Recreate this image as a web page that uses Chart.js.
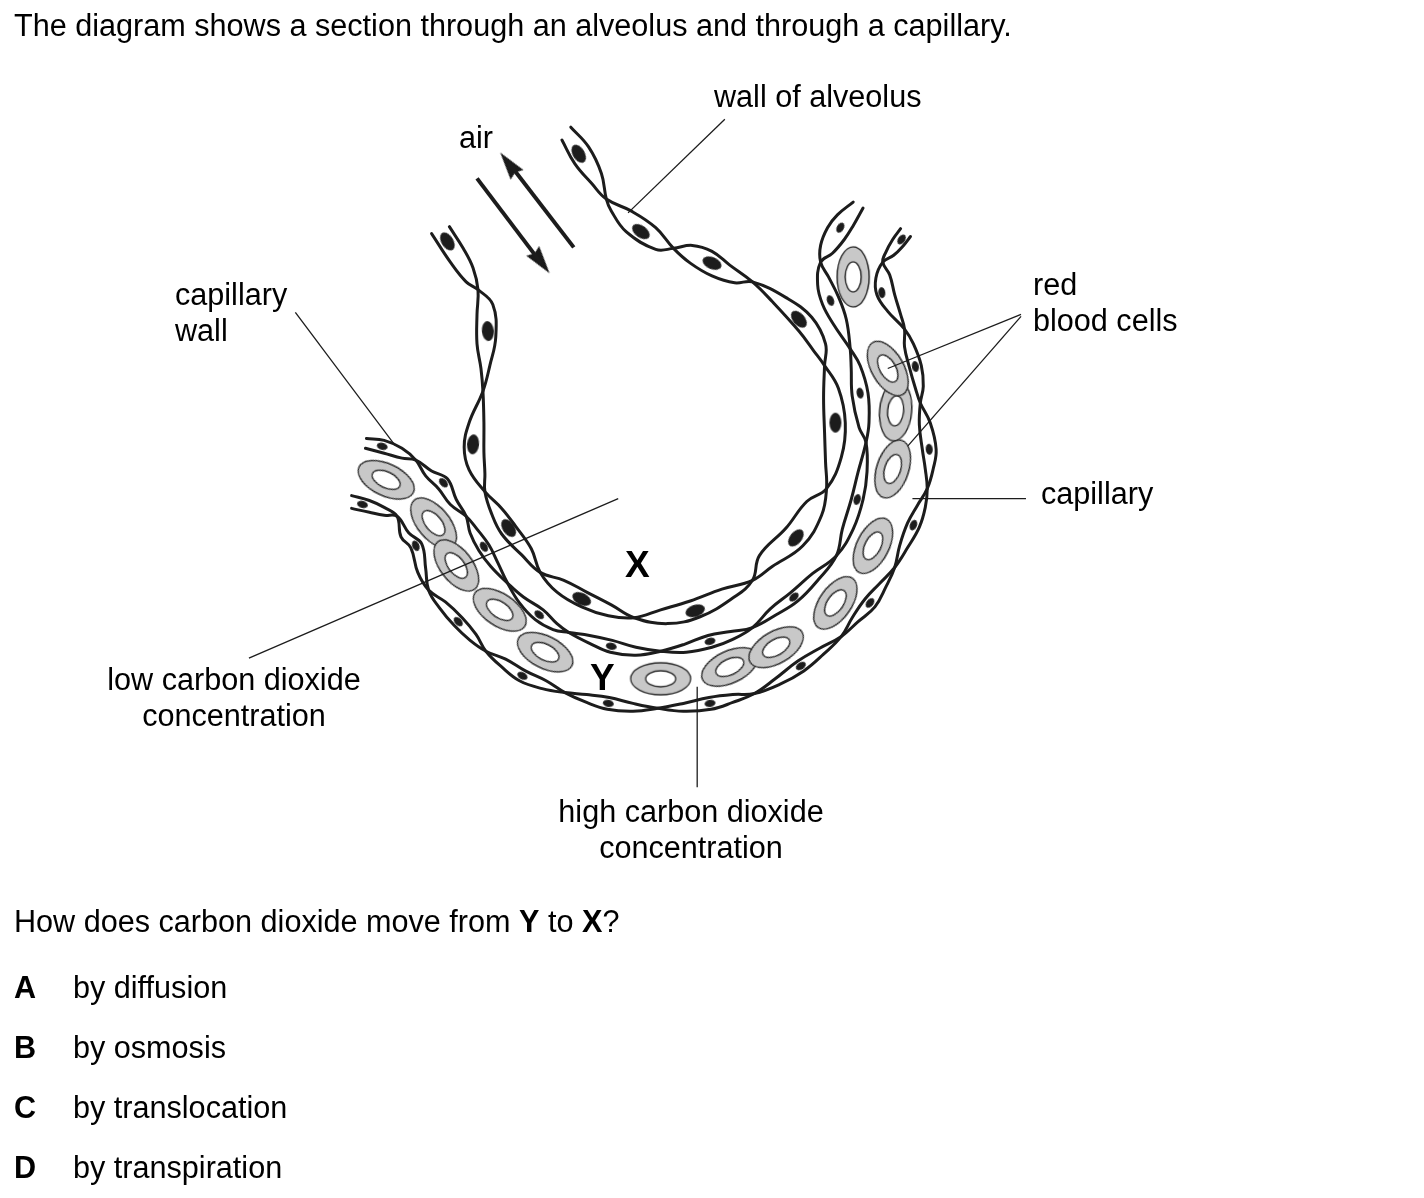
<!DOCTYPE html>
<html>
<head>
<meta charset="utf-8">
<title>Section through an alveolus and a capillary</title>
<script src="https://cdn.jsdelivr.net/npm/chart.js@4.4.0/dist/chart.umd.min.js"></script>
<style>
  body { margin: 0; background: #fff; }
  #page { position: relative; width: 1424px; height: 1198px; font-family: "Liberation Sans", Arial, sans-serif; font-size: 30.6px; color: #000; }
  #theChart { position: absolute; left: 0; top: 0; }
  .lbl { position: absolute; white-space: nowrap; line-height: 30px; }
  .mid { text-align: center; width: 320px; }
  .b { font-weight: bold; }
  .big { font-weight: bold; font-size: 37px; line-height: 37px; }
</style>
</head>
<body>
<div id="page">
<canvas id="theChart" width="1424" height="1198"></canvas>

<div class="lbl" style="left:14px;top:10px">The diagram shows a section through an alveolus and through a capillary.</div>
<div class="lbl" style="left:714px;top:81px">wall of alveolus</div>
<div class="lbl" style="left:459px;top:122px">air</div>
<div class="lbl" style="left:175px;top:279px">capillary</div>
<div class="lbl" style="left:175px;top:315px">wall</div>
<div class="lbl" style="left:1033px;top:269px">red</div>
<div class="lbl" style="left:1033px;top:305px">blood cells</div>
<div class="lbl" style="left:1041px;top:478px">capillary</div>
<div class="lbl big" style="left:625px;top:546px">X</div>
<div class="lbl big" style="left:590px;top:659px">Y</div>
<div class="lbl mid" style="left:74px;top:664px">low carbon dioxide</div>
<div class="lbl mid" style="left:74px;top:700px">concentration</div>
<div class="lbl mid" style="left:531px;top:796px">high carbon dioxide</div>
<div class="lbl mid" style="left:531px;top:832px">concentration</div>
<div class="lbl" style="left:14px;top:906px">How does carbon dioxide move from <span class="b">Y</span> to <span class="b">X</span>?</div>
<div class="lbl b" style="left:14px;top:972px">A</div><div class="lbl" style="left:73px;top:972px">by diffusion</div>
<div class="lbl b" style="left:14px;top:1032px">B</div><div class="lbl" style="left:73px;top:1032px">by osmosis</div>
<div class="lbl b" style="left:14px;top:1092px">C</div><div class="lbl" style="left:73px;top:1092px">by translocation</div>
<div class="lbl b" style="left:14px;top:1152px">D</div><div class="lbl" style="left:73px;top:1152px">by transpiration</div>
</div>

<script>
// diagram values (x to the right, y downwards)

// wall of alveolus: two wavy strands that cross each other
var alveolusWallA = [
  [428,228],[447,257],[463,277],[475,285],
  [490,300],[493,333],[487,362],[480,388],
  [466,420],[461,445],[466,468],[482,490],
  [499,507],[513,525],[529,548],[538,572],
  [555,592],[580,607],[607,616],[633,618],
  [660,610],[690,601],[722,589],[753,580],
  [773,566],[804,545],[823,514],[828,487],
  [827,460],[826,430],[825,395],[826,362],
  [827,340],[813,313],[787,293],[753,277],
  [735,278],[712,271],[690,258],[673,243],
  [655,222],[630,205],[605,193],
  [590,177],[573,157],[560,133]
];
var alveolusWallB = [
  [446,221],[460,243],[470,263],[475,285],
  [474,310],[474,340],[478,365],[480,388],
  [481,420],[481,450],[482,472],[482,490],
  [489,513],[499,533],[519,554],[538,572],
  [562,580],[585,592],[610,605],[633,618],
  [667,624],[700,617],[733,598],[753,580],
  [760,555],[787,527],[808,500],[828,487],
  [843,455],[847,420],[840,385],[826,362],
  [815,347],[800,327],[773,297],[753,277],
  [730,260],[712,246],[692,240],[673,243],
  [655,244],[625,226],[610,205],[605,193],
  [600,167],[587,140],[569,120]
];

// capillary wall next to the alveolus
var innerCapWallA = [
  [361,446],[380,451],[398,456],[412,458],
  [428,469],[444,477],[453,498],[463,515],
  [467,532],[476,550],[488,566],[505,583],
  [521,597],[541,610],[555,624],[567,633],
  [588,644],[609,653],[635,656],[660,652],
  [684,645],[708,636],[731,632],[753,628],
  [777,615],[799,601],[820,579],[838,555],
  [844,528],[853,498],[860,470],[868,440],
  [871,420],[870,390],[862,362],[852,345],
  [835,320],[824,300],[819,280],[822,257],
  [834,248],[846,234],[855,220],[865,202]
];
var innerCapWallB = [
  [362,436],[380,438],[398,446],[412,458],
  [422,474],[435,487],[447,503],[463,515],
  [474,528],[486,544],[495,562],[505,583],
  [517,603],[533,620],[551,630],[567,633],
  [588,636],[611,641],[635,648],[660,652],
  [686,653],[712,648],[733,640],[753,628],
  [771,609],[791,593],[814,573],[838,555],
  [855,528],[865,498],[869,470],[868,440],
  [861,425],[854,393],[853,365],[852,345],
  [848,315],[840,292],[830,272],[822,257],
  [822,240],[829,222],[839,209],[855,196]
];

// outer capillary wall
var outerCapWallA = [
  [347,507],[365,511],[380,514],[393,515],
  [405,532],[418,543],[422,568],[425,590],
  [436,608],[451,626],[467,641],[483,652],
  [503,660],[523,672],[544,682],[563,694],
  [585,704],[606,711],[632,713],[657,710],
  [683,705],[709,699],[733,696],[755,695],
  [780,686],[805,672],[825,655],[843,637],
  [854,618],[867,599],[882,583],[897,567],
  [910,547],[922,526],[928,506],[930,487],
  [928,467],[925,447],[922,422],[923,400],
  [926,383],[924,362],[916,340],[907,325],
  [890,307],[879,290],[878,273],[885,257],
  [896,250],[906,240],[913,231]
];
var outerCapWallB = [
  [347,494],[365,499],[380,506],[393,515],
  [397,536],[407,547],[414,572],[425,590],
  [442,602],[459,618],[473,635],[483,652],
  [499,668],[517,682],[540,690],[563,694],
  [585,696],[608,699],[632,705],[657,710],
  [683,713],[711,711],[733,704],[755,695],
  [776,680],[799,662],[821,649],[843,637],
  [860,622],[877,607],[888,587],[897,567],
  [902,545],[910,522],[920,504],[930,487],
  [936,467],[939,447],[933,420],[923,400],
  [918,385],[912,364],[907,343],[907,325],
  [903,310],[897,290],[892,270],[885,257],
  [888,247],[895,234],[903,223]
];

// nuclei (position and slant in degrees)
var alveolusNuclei = [[444,236],[485,327],[470,442],[506,527],[580,599],[695,611],[797,537],[837,420],[800,315],[712,258],[640,226],[577,147]];
var alveolusNucleiAngle = [58,85,95,56,26,-18,-51,90,49,23,36,59];
var capNuclei = [
  [378,444],[440,481],[481,546],[537,615],[610,647],[710,642],[795,597],[859,498],[862,390],[832,296],[842,222],
  [358,503],[412,545],[455,622],[520,677],[607,705],[710,705],[802,667],[872,603],[916,524],[932,447],[918,363],[884,288],[904,234]
];
var capNucleiAngle = [15,48,58,39,12,-15,-42,-75,80,70,-60, 15,67,47,28,10,-9,-33,-52,-68,85,80,85,-55];

// red blood cells
var redCells = [[382,478],[430,522],[453,565],[497,610],[543,653],[660,680],[730,668],[777,648],[837,603],[875,545],[895,467],[898,408],[890,365],[855,272]];
var redCellAngle = [25,50,52,34,27,0,-25,-30,-55,-63,-72,-85,60,90];

// air arrows
var arrowUp = [[572,242],[506,156]];
var arrowDown = [[474,172],[539,258]];
var arrowHeads = [[506,157],[539,257]];
var arrowHeadAngle = [-37,143];

// label leader lines
var leaderWallOfAlveolus = [[725,112],[627,207]];
var leaderCapillaryWall = [[290,308],[391,443]];
var leaderRedCells1 = [[1025,310],[890,365]];
var leaderRedCells2 = [[1025,312],[910,444]];
var leaderCapillary = [[915,497],[1030,497]];
var leaderLowCO2 = [[243,659],[617,497]];
var leaderHighCO2 = [[697,688],[697,790]];


// turn [x,y] pairs into chart points
function toPoints(arr){
  return arr.map(function(p){ return {x: p[0], y: p[1]}; });
}

// small canvas with an ellipse, used as point style
function ellipseImage(w, h, fill, stroke, innerW, innerH){
  var c = document.createElement('canvas');
  c.width = w + 4;
  c.height = h + 4;
  var g = c.getContext('2d');
  g.beginPath();
  g.ellipse(c.width/2, c.height/2, w/2, h/2, 0, 0, Math.PI*2);
  g.fillStyle = fill;
  g.fill();
  if(stroke){
    g.lineWidth = 1.3;
    g.strokeStyle = stroke;
    g.stroke();
  }
  if(innerW){
    g.beginPath();
    g.ellipse(c.width/2, c.height/2, innerW/2, innerH/2, 0, 0, Math.PI*2);
    g.fillStyle = '#fff';
    g.fill();
    g.stroke();
  }
  return c;
}

// arrow head pointing up
function arrowHeadImage(){
  var c = document.createElement('canvas');
  c.width = 18;
  c.height = 28;
  var g = c.getContext('2d');
  g.beginPath();
  g.moveTo(9, 0);
  g.lineTo(17, 28);
  g.lineTo(9, 25);
  g.lineTo(1, 28);
  g.closePath();
  g.fillStyle = '#1a1a1a';
  g.fill();
  return c;
}

var ink = '#1c1c1c';

function wallLine(arr){
  return {type: 'line', data: toPoints(arr), borderColor: ink, borderWidth: 3, pointRadius: 0,
          tension: 0.4, fill: false, clip: false, borderCapStyle: 'round', borderJoinStyle: 'round'};
}
function thinLine(arr, width){
  return {type: 'line', data: toPoints(arr), borderColor: ink, borderWidth: width, pointRadius: 0,
          tension: 0, fill: false, clip: false};
}
function marks(arr, img, angles){
  return {type: 'line', data: toPoints(arr), showLine: false, pointStyle: img, pointRadius: 8,
          pointRotation: function(ctx){ return angles[ctx.dataIndex]; }, clip: false};
}

var bigNucleus = ellipseImage(20, 12, ink);
var smallNucleus = ellipseImage(11, 7, ink);
var redCellImg = ellipseImage(60, 32, '#c8c8c8', '#2a2a2a', 30, 16);

var datasets = [
  thinLine(leaderWallOfAlveolus, 1.3),
  thinLine(leaderCapillaryWall, 1.3),
  thinLine(leaderRedCells1, 1.3),
  thinLine(leaderRedCells2, 1.3),
  thinLine(leaderCapillary, 1.3),
  thinLine(leaderLowCO2, 1.3),
  thinLine(leaderHighCO2, 1.3),
  thinLine(arrowUp, 4),
  thinLine(arrowDown, 4),
  marks(arrowHeads, arrowHeadImage(), arrowHeadAngle),
  marks(alveolusNuclei, bigNucleus, alveolusNucleiAngle),
  marks(capNuclei, smallNucleus, capNucleiAngle),
  marks(redCells, redCellImg, redCellAngle),
  wallLine(alveolusWallA),
  wallLine(alveolusWallB),
  wallLine(innerCapWallA),
  wallLine(innerCapWallB),
  wallLine(outerCapWallA),
  wallLine(outerCapWallB)
];

var myChart = new Chart(document.getElementById('theChart').getContext('2d'), {
  type: 'line',
  data: { datasets: datasets },
  options: {
    responsive: false,
    animation: false,
    events: [],
    layout: { padding: 0 },
    plugins: { legend: { display: false }, tooltip: { enabled: false } },
    scales: {
      x: { type: 'linear', min: 0, max: 1424, display: false },
      y: { type: 'linear', min: 0, max: 1198, reverse: true, display: false }
    }
  }
});
</script>
</body>
</html>
